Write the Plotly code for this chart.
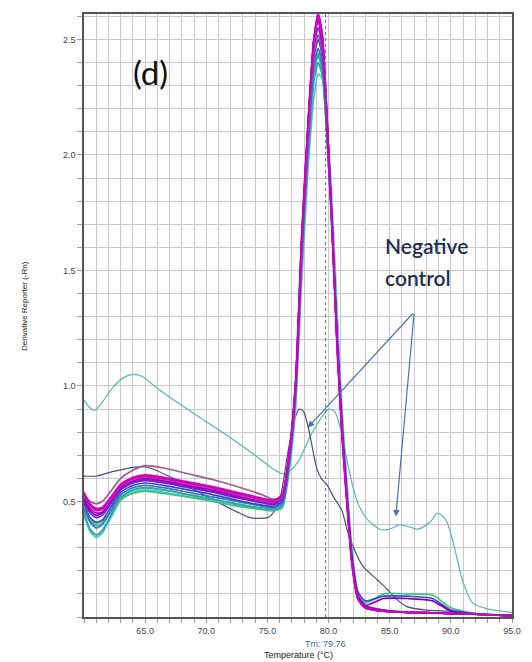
import plotly.graph_objects as go

# Temperature grid shared by the sample melt curves (deg C)
temps = [60.0, 60.5, 61.0, 61.5, 62.2, 63.0, 64.0, 65.0, 66.5, 68.5, 70.5, 72.5,
         74.5, 75.5, 76.2, 76.8, 77.3, 77.8, 78.3, 78.8, 79.15, 79.5, 79.9, 80.3,
         80.7, 81.1, 81.5, 81.9, 82.4, 83.0, 84.5, 86.5, 88.5, 90.0, 92.0, 95.0]

# Derivative reporter (-Rn') for each sample well, drawn back to front
sample_colors = ["#40c8c8", "#2aa0b0", "#40c080", "#30b098", "#3d78c0", "#3a4cc8",
                 "#a05a98", "#7030d0", "#8000b0", "#9010c0", "#e020d0", "#c800a8", "#d000c0"]
sample_values = [
    [0.44, 0.37, 0.345, 0.365, 0.43, 0.505, 0.54, 0.55, 0.54, 0.52, 0.505, 0.485, 0.468, 0.462,
     0.47, 0.64, 0.90, 1.45, 1.92, 2.25, 2.35, 2.33, 2.12, 1.78, 1.32, 0.90, 0.58, 0.30, 0.10,
     0.045, 0.025, 0.02, 0.018, 0.015, 0.012, 0.006],
    [0.45, 0.38, 0.355, 0.375, 0.44, 0.515, 0.55, 0.56, 0.55, 0.53, 0.51, 0.49, 0.47, 0.465,
     0.48, 0.66, 0.95, 1.52, 1.98, 2.32, 2.40, 2.34, 2.05, 1.67, 1.22, 0.85, 0.55, 0.28, 0.09,
     0.04, 0.025, 0.02, 0.018, 0.015, 0.012, 0.006],
    [0.46, 0.42, 0.405, 0.415, 0.455, 0.51, 0.535, 0.545, 0.535, 0.52, 0.50, 0.48, 0.465, 0.46,
     0.48, 0.67, 0.96, 1.55, 2.00, 2.36, 2.44, 2.37, 2.05, 1.66, 1.20, 0.83, 0.53, 0.27, 0.10,
     0.06, 0.10, 0.10, 0.095, 0.04, 0.015, 0.006],
    [0.47, 0.415, 0.395, 0.405, 0.455, 0.52, 0.55, 0.56, 0.55, 0.53, 0.51, 0.49, 0.472, 0.466,
     0.48, 0.67, 0.96, 1.54, 2.00, 2.35, 2.43, 2.36, 2.05, 1.66, 1.20, 0.83, 0.53, 0.27, 0.09,
     0.04, 0.025, 0.02, 0.018, 0.015, 0.012, 0.006],
    [0.47, 0.41, 0.385, 0.40, 0.46, 0.53, 0.56, 0.57, 0.56, 0.54, 0.52, 0.50, 0.48, 0.472,
     0.49, 0.68, 0.97, 1.56, 2.02, 2.38, 2.46, 2.38, 2.06, 1.66, 1.20, 0.83, 0.53, 0.27, 0.09,
     0.04, 0.025, 0.02, 0.018, 0.015, 0.012, 0.006],
    [0.49, 0.43, 0.41, 0.42, 0.475, 0.54, 0.57, 0.58, 0.57, 0.55, 0.53, 0.505, 0.485, 0.478,
     0.50, 0.69, 0.98, 1.58, 2.05, 2.42, 2.50, 2.42, 2.08, 1.67, 1.20, 0.82, 0.52, 0.26, 0.11,
     0.07, 0.09, 0.09, 0.08, 0.03, 0.015, 0.006],
    [0.53, 0.50, 0.49, 0.50, 0.545, 0.60, 0.635, 0.655, 0.645, 0.62, 0.595, 0.565, 0.53, 0.51,
     0.52, 0.70, 0.98, 1.58, 2.05, 2.44, 2.52, 2.44, 2.10, 1.68, 1.18, 0.80, 0.50, 0.24, 0.08,
     0.04, 0.025, 0.02, 0.018, 0.015, 0.012, 0.006],
    [0.50, 0.45, 0.43, 0.44, 0.49, 0.55, 0.58, 0.59, 0.58, 0.56, 0.54, 0.515, 0.495, 0.485,
     0.51, 0.70, 1.00, 1.62, 2.10, 2.47, 2.55, 2.46, 2.10, 1.68, 1.19, 0.81, 0.51, 0.25, 0.09,
     0.05, 0.03, 0.02, 0.018, 0.015, 0.012, 0.006],
    [0.51, 0.46, 0.44, 0.45, 0.50, 0.56, 0.59, 0.60, 0.59, 0.57, 0.55, 0.525, 0.50, 0.49,
     0.52, 0.71, 1.01, 1.64, 2.12, 2.50, 2.59, 2.49, 2.12, 1.69, 1.19, 0.81, 0.51, 0.25, 0.09,
     0.05, 0.08, 0.08, 0.07, 0.025, 0.012, 0.006],
    [0.52, 0.47, 0.45, 0.455, 0.50, 0.555, 0.585, 0.595, 0.585, 0.565, 0.545, 0.52, 0.50, 0.49,
     0.52, 0.72, 1.02, 1.65, 2.12, 2.50, 2.58, 2.48, 2.12, 1.70, 1.20, 0.82, 0.52, 0.25, 0.085,
     0.045, 0.03, 0.02, 0.018, 0.015, 0.012, 0.006],
    [0.53, 0.48, 0.46, 0.465, 0.51, 0.565, 0.595, 0.605, 0.595, 0.575, 0.555, 0.53, 0.505, 0.495,
     0.52, 0.71, 0.98, 1.60, 2.08, 2.48, 2.60, 2.50, 2.12, 1.66, 1.16, 0.78, 0.49, 0.23, 0.075,
     0.04, 0.025, 0.02, 0.018, 0.015, 0.012, 0.006],
    [0.535, 0.485, 0.465, 0.47, 0.515, 0.57, 0.60, 0.61, 0.60, 0.58, 0.56, 0.535, 0.51, 0.50,
     0.525, 0.72, 1.00, 1.62, 2.10, 2.50, 2.61, 2.51, 2.13, 1.67, 1.17, 0.79, 0.50, 0.24, 0.08,
     0.04, 0.025, 0.02, 0.018, 0.015, 0.012, 0.006],
    [0.54, 0.49, 0.47, 0.475, 0.52, 0.575, 0.605, 0.615, 0.605, 0.585, 0.565, 0.54, 0.515, 0.505,
     0.53, 0.72, 1.00, 1.62, 2.10, 2.50, 2.61, 2.52, 2.14, 1.68, 1.18, 0.80, 0.50, 0.24, 0.08,
     0.04, 0.025, 0.02, 0.018, 0.015, 0.012, 0.006],
]

# Negative control wells
neg_a_temps = [60.0, 60.4, 60.9, 61.5, 62.3, 63.2, 64.0, 64.8, 66.0, 68.0, 70.0, 72.0, 74.0,
               75.5, 76.3, 77.0, 77.7, 78.3, 78.9, 79.5, 80.0, 80.5, 81.0, 81.5, 82.0, 82.5,
               83.2, 84.2, 85.0, 85.8, 86.6, 87.3, 88.3, 88.9, 89.6, 90.2, 91.0, 91.8, 93.0, 95.0]
neg_a_values = [0.94, 0.91, 0.895, 0.93, 0.99, 1.035, 1.05, 1.04, 0.99, 0.915, 0.845, 0.775, 0.70,
                0.64, 0.62, 0.64, 0.69, 0.76, 0.82, 0.87, 0.90, 0.89, 0.81, 0.68, 0.56, 0.48,
                0.42, 0.38, 0.38, 0.40, 0.39, 0.38, 0.41, 0.45, 0.42, 0.32, 0.15, 0.06, 0.035, 0.02]
neg_b_temps = [60.0, 61.0, 62.4, 64.3, 65.4, 67.3, 70.3, 72.5, 73.6, 75.0, 75.6, 76.1, 76.7,
               77.25, 77.6, 77.95, 78.3, 78.65, 79.05, 79.4, 79.9, 80.4, 81.1, 81.5, 82.0, 82.8,
               84.0, 84.8, 85.6, 86.4, 88.0, 90.0, 92.0, 95.0]
neg_b_values = [0.61, 0.61, 0.63, 0.65, 0.645, 0.60, 0.515, 0.455, 0.43, 0.43, 0.46, 0.53, 0.72,
                0.86, 0.90, 0.89, 0.83, 0.74, 0.64, 0.60, 0.57, 0.52, 0.46, 0.38, 0.305, 0.22,
                0.16, 0.12, 0.075, 0.045, 0.03, 0.025, 0.015, 0.008]

x_tick_vals = [65, 70, 75, 80, 85, 90, 95]
x_tick_text = ["65.0", "70.0", "75.0", "80.0", "85.0", "90.0", "95.0"]
y_tick_vals = [0.5, 1.0, 1.5, 2.0, 2.5]
y_tick_text = ["0.5", "1.0", "1.5", "2.0", "2.5"]
tm_value = 79.76

fig = go.Figure()

fig.add_trace(go.Scatter(x=neg_a_temps, y=neg_a_values, mode="lines",
                         line=dict(color="#5ab4b8", width=1.2, shape="spline", smoothing=0.7),
                         showlegend=False))
fig.add_trace(go.Scatter(x=neg_b_temps, y=neg_b_values, mode="lines",
                         line=dict(color="#4c4c84", width=1.2, shape="spline", smoothing=0.7),
                         showlegend=False))
for color, vals in zip(sample_colors, sample_values):
    fig.add_trace(go.Scatter(x=temps, y=vals, mode="lines",
                             line=dict(color=color, width=1.7, shape="spline", smoothing=0.6),
                             showlegend=False))

grid = "#c9c9c9"
fig.update_xaxes(range=[60, 95], tickmode="array", tickvals=x_tick_vals, ticktext=x_tick_text,
                 showgrid=True, gridcolor=grid, gridwidth=1, zeroline=False,
                 ticks="outside", ticklen=4, tickcolor="#999",
                 minor=dict(tickmode="linear", tick0=60, dtick=1, showgrid=True,
                            gridcolor=grid, gridwidth=1, ticks="outside", ticklen=4,
                            tickcolor="#999"),
                 showline=True, linecolor="#555", linewidth=1.5, mirror=True,
                 tickfont=dict(family="Liberation Sans", size=9, color="#444"))
fig.update_yaxes(range=[0, 2.61], tickmode="array", tickvals=y_tick_vals, ticktext=y_tick_text,
                 showgrid=True, gridcolor=grid, gridwidth=1, zeroline=False,
                 ticks="outside", ticklen=5, tickcolor="#999",
                 minor=dict(tickmode="linear", tick0=0, dtick=0.1, showgrid=True,
                            gridcolor=grid, gridwidth=1, ticks="outside", ticklen=5,
                            tickcolor="#999"),
                 showline=True, linecolor="#555", linewidth=1.5, mirror=True,
                 tickfont=dict(family="Liberation Sans", size=9, color="#444"))

# Tm marker
fig.add_shape(type="line", xref="x", yref="paper", x0=tm_value, x1=tm_value, y0=0, y1=1,
              line=dict(color="#5a7090", width=1, dash="dot"))

annotations = [
    dict(text="(d)", x=65.4, y=2.36, xref="x", yref="y", showarrow=False,
         font=dict(family="Lato", size=33, color="#111")),
    dict(text="Negative", x=84.45, y=1.61, xref="x", yref="y", xanchor="left", showarrow=False,
         font=dict(family="Lato", size=21, color="#1f2f4f", weight=600)),
    dict(text="control", x=84.45, y=1.47, xref="x", yref="y", xanchor="left", showarrow=False,
         font=dict(family="Lato", size=21, color="#1f2f4f", weight=600)),
    dict(text="", x=78.3, y=0.82, ax=87.0, ay=1.32, xref="x", yref="y", axref="x", ayref="y",
         showarrow=True, arrowhead=2, arrowsize=1.1, arrowwidth=1.2, arrowcolor="#4a70b0"),
    dict(text="", x=85.5, y=0.435, ax=87.0, ay=1.32, xref="x", yref="y", axref="x", ayref="y",
         showarrow=True, arrowhead=2, arrowsize=1.1, arrowwidth=1.2, arrowcolor="#4a70b0"),
    dict(text=f"Tm: {tm_value:.2f}", x=tm_value, y=0, xref="x", yref="paper", yanchor="top",
         yshift=-20, showarrow=False,
         font=dict(family="Liberation Sans", size=9, color="#4a6890")),
    dict(text="Temperature (°C)", x=0.5, y=0, xref="paper", yref="paper", yanchor="top",
         yshift=-31, showarrow=False,
         font=dict(family="Liberation Sans", size=9, color="#222")),
    dict(text="Derivative Reporter (-Rn)", x=0, y=0.515, xref="paper", yref="paper",
         xshift=-66, textangle=-90, showarrow=False,
         font=dict(family="Liberation Sans", size=8, color="#222")),
]
fig.update_layout(width=532, height=662, margin=dict(l=84, r=20, t=14, b=45),
                  paper_bgcolor="white", plot_bgcolor="white", annotations=annotations)

fig.write_html("out.html")
